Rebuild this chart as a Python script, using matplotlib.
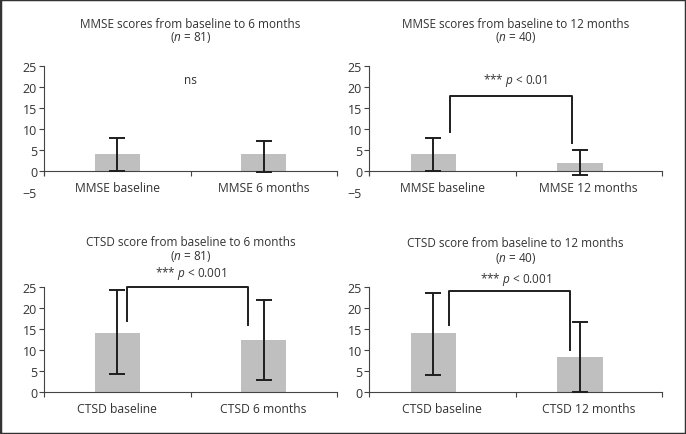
import matplotlib.pyplot as plt
from matplotlib.patches import Rectangle

plt.rcParams['font.family'] = ['Open Sans', 'DejaVu Sans']
plt.rcParams['mathtext.fontset'] = 'custom'
plt.rcParams['mathtext.rm'] = 'Open Sans'
plt.rcParams['mathtext.it'] = 'Open Sans:italic'
plt.rcParams['font.size'] = 8.5

# panel data: (mean, lower error, upper error)
mmse6_labels = ['MMSE baseline', 'MMSE 6 months']
mmse6_means = [4.0, 4.0]
mmse6_err_lo = [3.9, 4.2]
mmse6_err_hi = [3.9, 3.1]

mmse12_labels = ['MMSE baseline', 'MMSE 12 months']
mmse12_means = [4.0, 2.0]
mmse12_err_lo = [4.0, 2.9]
mmse12_err_hi = [3.9, 3.1]

ctsd6_labels = ['CTSD baseline', 'CTSD 6 months']
ctsd6_means = [14.2, 12.5]
ctsd6_err_lo = [9.8, 9.7]
ctsd6_err_hi = [10.1, 9.4]

ctsd12_labels = ['CTSD baseline', 'CTSD 12 months']
ctsd12_means = [14.0, 8.4]
ctsd12_err_lo = [9.9, 8.4]
ctsd12_err_hi = [9.6, 8.3]

titles = ['MMSE scores from baseline to 6 months', 'MMSE scores from baseline to 12 months',
          'CTSD score from baseline to 6 months', 'CTSD score from baseline to 12 months']
ns = ['81', '40', '81', '40']
sig_texts = ['ns', '*** $p$ < 0.01', '*** $p$ < 0.001', '*** $p$ < 0.001']

bar_color = '#bfbfbf'
ink = '#1e1e1e'
txt = '#333333'

fig = plt.figure(figsize=(6.86, 4.35), dpi=100)

W = 293 / 686
top_h = 126 / 435
bot_h = 104.7 / 435
axes = [
    fig.add_axes([44 / 686, 242 / 435, W, top_h]),
    fig.add_axes([369 / 686, 242 / 435, W, top_h]),
    fig.add_axes([44 / 686, 42 / 435, W, bot_h]),
    fig.add_axes([369 / 686, 42 / 435, W, bot_h]),
]

panels = [
    (mmse6_labels, mmse6_means, mmse6_err_lo, mmse6_err_hi),
    (mmse12_labels, mmse12_means, mmse12_err_lo, mmse12_err_hi),
    (ctsd6_labels, ctsd6_means, ctsd6_err_lo, ctsd6_err_hi),
    (ctsd12_labels, ctsd12_means, ctsd12_err_lo, ctsd12_err_hi),
]
bar_pos = [[0.5, 1.5], [0.44, 1.44], [0.5, 1.5], [0.44, 1.44]]
# brackets: (x left, x right, y left foot, y right foot, y top)
brackets = [None, (0.555, 1.386, 9.2, 6.6, 17.8), (0.565, 1.395, 16.9, 15.9, 25.1),
            (0.546, 1.374, 16.1, 10.1, 24.0)]

for i, ax in enumerate(axes):
    labels, means, lo, hi = panels[i]
    ax.bar(bar_pos[i], means, width=0.31, color=bar_color, zorder=1)
    ax.errorbar(bar_pos[i], means, yerr=[lo, hi], fmt='none', ecolor=ink,
                elinewidth=1.4, capsize=5.5, capthick=1.4, zorder=3)
    ax.set_xlim(0, 2)
    if i < 2:
        ax.set_ylim(-5, 25)
        ax.set_yticks([-5, 0, 5, 10, 15, 20, 25])
        ax.set_yticklabels(['\u22125', '0', '5', '10', '15', '20', '25'])
        ax.yaxis.get_major_ticks()[0].tick1line.set_visible(False)
        ax.spines['left'].set_bounds(-1, 25)
    else:
        ax.set_ylim(0, 25)
        ax.set_yticks([0, 5, 10, 15, 20, 25])
    ax.spines['bottom'].set_position(('data', 0))
    for s in ['top', 'right']:
        ax.spines[s].set_visible(False)
    for s in ['left', 'bottom']:
        ax.spines[s].set_color('#444444')
        ax.spines[s].set_linewidth(0.8)
    ax.set_xticks([0, 1, 2])
    ax.set_xticklabels([])
    ax.set_xticks([0.5, 1.5], minor=True)
    ax.set_xticklabels(labels, minor=True)
    ax.tick_params(axis='x', which='major', direction='out', length=3.5, width=0.8, color='#444444')
    ax.tick_params(axis='x', which='minor', length=0, pad=7, labelsize=8.7, labelcolor=txt)
    ax.tick_params(axis='y', direction='out', length=3.5, width=0.8, color='#444444',
                   pad=1.5, labelsize=9, labelcolor=txt)
    ax.patch.set_visible(False)

    n_line = '($n$ = ' + ns[i] + ')'
    if i == 2:
        # title, n and p-value stacked evenly in one block
        ax.text(1.0, 32.0, titles[i] + '\n' + n_line + '\n' + sig_texts[i], ha='center',
                va='center', fontsize=8.5, color=txt, linespacing=1.05)
    else:
        ty = 33.4 if i < 2 else 33.7
        ax.text(1.0, ty, titles[i] + '\n' + n_line, ha='center', va='center',
                fontsize=8.5, color=txt, linespacing=0.88 if i < 2 else 1.1)
        ax.text(1.0, [21.7, 21.7, 0, 27.2][i], sig_texts[i], ha='center', va='center',
                fontsize=8.5, color=txt)

    if brackets[i] is not None:
        x1, x2, y1, y2, yt = brackets[i]
        ax.plot([x1, x1, x2, x2], [y1, yt, yt, y2], color=ink, lw=1.4, clip_on=False, zorder=4)

fig.patches.append(Rectangle((0, 0), 1, 1, transform=fig.transFigure, fill=False,
                             edgecolor='#333333', linewidth=2.5))

fig.savefig('out.png', dpi=100)
